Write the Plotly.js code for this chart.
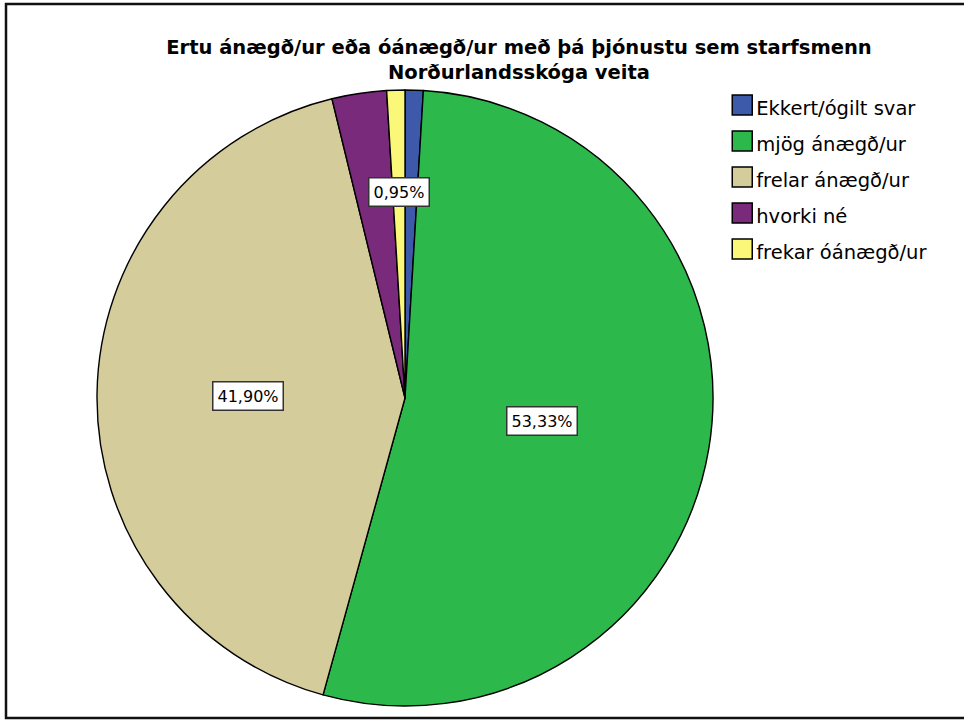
<!DOCTYPE html>
<html>
<head>
<meta charset="utf-8">
<script src="https://cdn.plot.ly/plotly-3.0.1.min.js"></script>
<style>
  html, body { margin: 0; padding: 0; background: #fff; }
  #chart { width: 964px; height: 721px; }
</style>
</head>
<body>
<div id="chart"></div>
<script>
// ---- data ----
const categories = ['Ekkert/ógilt svar', 'mjög ánægð/ur', 'frelar ánægð/ur', 'hvorki né', 'frekar óánægð/ur'];
const percents = [0.95, 53.33, 41.90, 2.86, 0.95];
const sliceLabels = ['', '53,33%', '41,90%', '', '0,95%'];
const titleText = 'Ertu ánægð/ur eða óánægð/ur með þá þjónustu sem starfsmenn<br>Norðurlandsskóga veita';

// ---- style ----
const colors = ['#3d59a9', '#2db84c', '#d4cd9b', '#7a2a7a', '#fbf779'];
const W = 964, H = 721;
const domX = [97 / W, 713 / W];
const domY = [1 - 706 / H, 1 - 90 / H];
const labelRadius = [0, 0.45, 0.51, 0, 0.67]; // fraction of pie radius for label boxes

// legend labels: visible text size smaller than the legend font (which sets row spacing)
const legendLabels = categories.map(c => '<span style="font-size:19.5px">' + c + '</span>');

// pie geometry (for label placement)
const cxPx = (domX[0] + domX[1]) / 2 * W;
const cyPx = (1 - (domY[0] + domY[1]) / 2) * H;
const rPx = Math.min((domX[1] - domX[0]) * W, (domY[1] - domY[0]) * H) / 2;
const total = percents.reduce((a, b) => a + b, 0);

const annotations = [];
let cum = 0;
percents.forEach((v, i) => {
  const mid = (cum + v / 2) / total * 2 * Math.PI;
  cum += v;
  if (!sliceLabels[i]) return;
  const px = cxPx + rPx * labelRadius[i] * Math.sin(mid);
  const py = cyPx - rPx * labelRadius[i] * Math.cos(mid);
  annotations.push({
    xref: 'paper', yref: 'paper', x: px / W, y: 1 - py / H,
    xanchor: 'center', yanchor: 'middle', showarrow: false,
    text: sliceLabels[i],
    font: { family: 'DejaVu Sans', size: 16, color: '#000' },
    bgcolor: '#ffffff', bordercolor: '#333333', borderwidth: 1.5, borderpad: 4
  });
});

const trace = {
  type: 'pie',
  labels: legendLabels,
  values: percents,
  sort: false,
  direction: 'clockwise',
  rotation: 0,
  textinfo: 'none',
  hoverinfo: 'label+percent',
  marker: { colors: colors, line: { color: '#000000', width: 1.4 } },
  domain: { x: domX, y: domY }
};

const layout = {
  width: W, height: H,
  margin: { l: 0, r: 0, t: 0, b: 0 },
  paper_bgcolor: '#ffffff',
  title: {
    text: titleText,
    font: { family: 'DejaVu Sans', size: 19.5, color: '#000', weight: 'bold' },
    x: 519 / W, xanchor: 'center', xref: 'paper',
    y: 1 - 54 / H, yanchor: 'top', yref: 'container'
  },
  showlegend: true,
  legend: {
    x: 0.743, xanchor: 'left', y: 1 - 82 / H, yanchor: 'top',
    font: { family: 'DejaVu Sans', size: 25.4, color: '#000' },
    bgcolor: 'rgba(0,0,0,0)', itemwidth: 30, traceorder: 'normal'
  },
  annotations: annotations,
  shapes: [{
    type: 'rect', xref: 'paper', yref: 'paper',
    x0: 6 / W, x1: 1.02, y0: 1 - 718 / H, y1: 1 - 4 / H,
    line: { color: '#111', width: 2.5 }, fillcolor: 'rgba(0,0,0,0)', layer: 'below'
  }]
};

Plotly.newPlot('chart', [trace], layout, { displayModeBar: false, staticPlot: true }).then(gd => {
  gd.querySelectorAll('.legendpie').forEach(p => {
    p.setAttribute('d', 'M16,10H-4V-10H16Z');
    p.style.strokeWidth = '1.5px';
  });
});
</script>
</body>
</html>
